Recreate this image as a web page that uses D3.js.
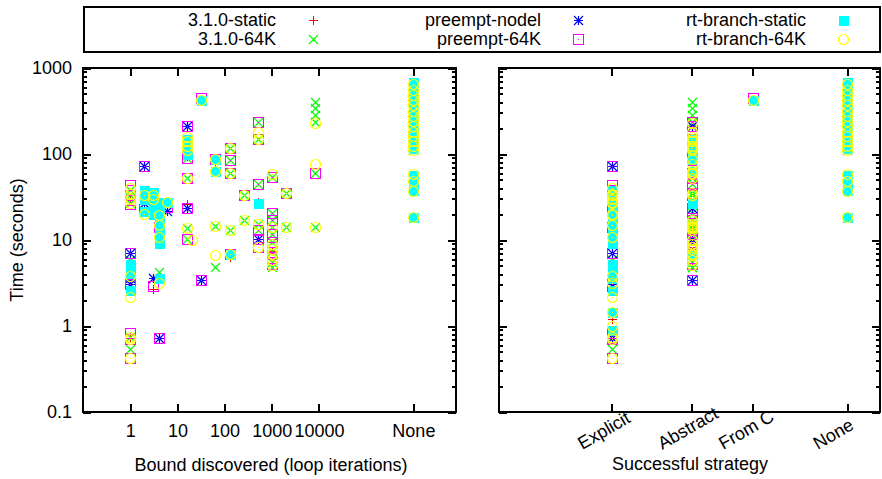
<!DOCTYPE html>
<html>
<head>
<meta charset="utf-8">
<script src="https://cdn.jsdelivr.net/npm/d3@7"></script>
<style>
  body { margin: 0; background: #fff; }
  text { font-family: "Liberation Sans", Arial, sans-serif; font-size: 18px; fill: #000; }
</style>
</head>
<body>
<svg id="chart" width="882" height="479"></svg>
<script>
"use strict";

// each point: [bound found (loop iterations), time in seconds, strategy]
// bound 0 has no place on the log axis, "None" = no bound discovered
// strategy codes: E explicit, A abstract, C from C, N none
let static310 = [
  [1, 30, "E"], [1, 7.0, "E"], [1, 3.4, "E"], [1, 0.72, "E"], [3, 2.7, "E"], [4, 12, "E"],
  [4, 24, "E"], [0, 1.2, "E"], [16, 26, "A"], [16, 95, "A"], [64, 70, "A"], [128, 6.3, "A"],
  [512, 28, "A"], [1024, 7.5, "A"], [32, 430, "C"]
];
let k64_310 = [
  [1, 38, "E"], [1, 33, "E"], [1, 27, "E"], [1, 5.9, "E"], [1, 0.74, "E"], [1, 0.54, "E"], [4, 4.2, "E"],
  [16, 90, "A"], [16, 52, "A"], [16, 13.8, "A"], [16, 10.2, "A"], [64, 14.5, "A"], [64, 4.8, "A"],
  [128, 118, "A"], [128, 85, "A"], [128, 60, "A"], [128, 13, "A"], [256, 33, "A"], [256, 17, "A"],
  [512, 237, "A"], [512, 150, "A"], [512, 45, "A"], [512, 15.5, "A"], [512, 13, "A"],
  [1024, 54, "A"], [1024, 20.5, "A"], [1024, 17, "A"], [1024, 14.3, "A"], [1024, 11.6, "A"],
  [1024, 9.5, "A"], [1024, 7.5, "A"], [1024, 5.6, "A"], [1024, 4.8, "A"], [2048, 35, "A"], [2048, 14, "A"],
  [8192, 405, "A"], [8192, 342, "A"], [8192, 285, "A"], [8192, 238, "A"], [8192, 60, "A"], [8192, 14, "A"],
  ["None", 112, "N"], ["None", 122, "N"]
];
let nodel = [
  [1, 7.1, "E"], [1, 3.6, "E"], [1, 3.1, "E"], [2, 72, "E"], [2, 27, "E"], [3, 3.6, "E"], [4, 0.72, "E"],
  [6, 22, "E"], [16, 212, "A"], [16, 23.5, "A"], [32, 3.4, "A"], [512, 10.3, "A"]
];
let preempt64 = [
  [1, 44, "E"], [1, 38, "E"], [1, 33, "E"], [1, 29, "E"], [1, 26, "E"], [1, 7.1, "E"], [1, 3.1, "E"],
  [1, 0.82, "E"], [1, 0.7, "E"], [1, 0.42, "E"], [2, 72, "E"], [2, 23, "E"], [3, 2.9, "E"], [4, 14, "E"],
  [4, 0.72, "E"], [6, 24, "E"],
  [16, 212, "A"], [16, 90, "A"], [16, 52, "A"], [16, 23.5, "A"], [16, 10.2, "A"], [32, 3.4, "A"],
  [64, 87, "A"], [128, 118, "A"], [128, 85, "A"], [128, 60, "A"], [128, 6.8, "A"], [256, 33, "A"],
  [512, 237, "A"], [512, 150, "A"], [512, 45, "A"], [512, 13, "A"], [512, 10.3, "A"], [512, 8.3, "A"],
  [1024, 54, "A"], [1024, 20.5, "A"], [1024, 17, "A"], [1024, 11.6, "A"], [1024, 9.5, "A"],
  [1024, 8.3, "A"], [1024, 7.2, "A"], [1024, 6.2, "A"], [1024, 5.3, "A"], [2048, 35, "A"], [8192, 60, "A"],
  [32, 445, "C"]
];
let rtStatic = [
  [1, 5.2, "E"], [1, 4.6, "E"], [1, 4.1, "E"], [1, 2.6, "E"], [2, 38, "E"], [2, 30, "E"], [2, 22, "E"],
  [3, 36, "E"], [3, 30, "E"], [3, 24, "E"], [3, 20, "E"], [4, 28, "E"], [4, 22, "E"], [4, 17, "E"],
  [4, 13, "E"], [4, 10, "E"], [4, 9.2, "E"], [4, 3.6, "E"], [6, 28, "E"], [0, 1.45, "E"], [0, 0.9, "E"],
  [16, 150, "A"], [16, 130, "A"], [16, 115, "A"], [16, 100, "A"], [64, 87, "A"], [64, 63, "A"],
  [128, 6.8, "A"], [512, 27, "A"], [32, 425, "C"],
  ["None", 690, "N"], ["None", 600, "N"], ["None", 520, "N"], ["None", 450, "N"], ["None", 400, "N"],
  ["None", 350, "N"], ["None", 300, "N"], ["None", 260, "N"], ["None", 225, "N"], ["None", 195, "N"],
  ["None", 170, "N"], ["None", 150, "N"], ["None", 132, "N"], ["None", 118, "N"], ["None", 57, "N"],
  ["None", 50, "N"], ["None", 38, "N"], ["None", 18.5, "N"]
];
let rt64 = [
  [1, 40, "E"], [1, 34, "E"], [1, 30, "E"], [1, 27, "E"], [1, 3.8, "E"], [1, 2.2, "E"], [1, 0.74, "E"],
  [1, 0.7, "E"], [1, 0.42, "E"], [2, 33, "E"], [2, 20, "E"], [3, 33, "E"], [3, 30, "E"], [4, 19.5, "E"],
  [4, 15, "E"], [4, 10.8, "E"], [4, 3.2, "E"], [6, 28, "E"], [0, 1.45, "E"], [0, 1.0, "E"],
  [16, 157, "A"], [16, 140, "A"], [16, 125, "A"], [16, 110, "A"], [16, 52, "A"], [16, 13.8, "A"],
  [20, 10, "A"], [64, 87, "A"], [64, 63, "A"], [64, 14.5, "A"], [64, 6.7, "A"], [128, 118, "A"],
  [128, 60, "A"], [128, 13, "A"], [128, 6.8, "A"], [256, 33, "A"], [256, 17, "A"], [512, 180, "A"],
  [512, 150, "A"], [512, 15.5, "A"], [512, 8.3, "A"], [1024, 59, "A"], [1024, 14.3, "A"], [1024, 9, "A"],
  [1024, 7.8, "A"], [1024, 6.8, "A"], [1024, 5.9, "A"], [1024, 5.1, "A"], [2048, 35, "A"], [2048, 14, "A"],
  [8192, 228, "A"], [8192, 76, "A"], [8192, 14, "A"], [32, 420, "C"],
  ["None", 660, "N"], ["None", 560, "N"], ["None", 480, "N"], ["None", 420, "N"], ["None", 370, "N"],
  ["None", 320, "N"], ["None", 280, "N"], ["None", 245, "N"], ["None", 210, "N"], ["None", 180, "N"],
  ["None", 160, "N"], ["None", 140, "N"], ["None", 125, "N"], ["None", 112, "N"], ["None", 58, "N"],
  ["None", 48, "N"], ["None", 37, "N"], ["None", 18.5, "N"]
];

let seriesNames = ["3.1.0-static", "3.1.0-64K", "preempt-nodel", "preempt-64K", "rt-branch-static", "rt-branch-64K"];
let seriesData = [static310, k64_310, nodel, preempt64, rtStatic, rt64];

let boundTicks = [1, 10, 100, 1000, 10000, "None"];
let timeTicks = [0.1, 1, 10, 100, 1000];
let strategyCodes = ["E", "A", "C", "N"];
let strategyLabels = ["Explicit", "Abstract", "From C", "None"];
let strategyX = [1.48, 2.53, 3.33, 4.57];

// styling
let colors = ["#ff0000", "#00ff00", "#0000ff", "#ff00ff", "#00ffff", "#ffff00"];
let shapes = ["plus", "cross", "star", "box", "boxfill", "circle"];
let noneAt = 1e6;

let svg = d3.select("#chart");
let y = d3.scaleLog().domain([0.1, 1000]).range([412, 68]);
let xBound = d3.scaleLog().domain([0.1, 8e6]).range([83, 456]);
let xStrat = d3.scaleLinear().domain([0, 5]).range([499, 880]);

function boundValue(b) { return b === "None" ? noneAt : b; }

function shapePath(kind) {
  let r = 4.5;
  let plus = `M${-r},0H${r}M0,${-r}V${r}`;
  let cross = `M${-r},${-r}L${r},${r}M${-r},${r}L${r},${-r}`;
  if (kind === "plus") return plus;
  if (kind === "cross") return cross;
  if (kind === "star") return plus + cross;
  if (kind === "box") return "M-5,-5H5V5H-5Z";
  if (kind === "boxfill") return "M-4.5,-4.5H4.5V4.5H-4.5Z";
  return "M5,0A5,5 0 1,1 -5,0A5,5 0 1,1 5,0Z";
}

function drawMark(g, i) {
  let kind = shapes[i];
  let square = kind === "box" || kind === "boxfill" || kind === "plus";
  g.append("path")
    .attr("d", shapePath(kind))
    .attr("fill", kind === "boxfill" ? colors[i] : "none")
    .attr("stroke", colors[i])
    .attr("stroke-width", square ? 1 : 1.2)
    .attr("shape-rendering", square ? "crispEdges" : "auto");
  if (kind === "box" || kind === "circle") {
    g.append("rect").attr("x", -0.5).attr("y", -0.5).attr("width", 1).attr("height", 1).attr("fill", colors[i]);
  }
}

function snap(v) { return Math.round(v) + 0.5; }

// frame, ticks on all four sides pointing inward
function drawFrame(x, x0, x1, xTickVals, xFormat, labelY) {
  let minor = y.ticks().filter(d => Math.abs(Math.log10(d) - Math.round(Math.log10(d))) > 1e-6);
  let g = svg.append("g");

  let yAxes = [
    [d3.axisLeft(y), x0, labelY],
    [d3.axisRight(y), x1, false]
  ];
  yAxes.forEach(([ax, pos, withLabels]) => {
    g.append("g").attr("transform", `translate(${pos},0)`)
      .call(ax.tickValues(timeTicks).tickSize(-8).tickSizeOuter(0).tickPadding(11)
        .tickFormat(withLabels ? d3.format("~g") : ""));
    g.append("g").attr("transform", `translate(${pos},0)`)
      .call(ax.tickValues(minor).tickSize(-4).tickSizeOuter(0).tickFormat(""));
  });

  g.append("g").attr("transform", "translate(0,68)")
    .call(d3.axisTop(x).tickValues(xTickVals).tickSize(-8).tickSizeOuter(0).tickFormat(""));
  let bottom = g.append("g").attr("transform", "translate(0,412)")
    .call(d3.axisBottom(x).tickValues(xTickVals).tickSize(-8).tickSizeOuter(0).tickPadding(12).tickFormat(xFormat));

  g.selectAll(".domain").remove();
  g.selectAll(".tick line").attr("stroke-width", 2).attr("shape-rendering", "crispEdges");
  g.selectAll("g").attr("font-size", null).attr("font-family", null);

  g.append("rect")
    .attr("x", x0).attr("y", 68).attr("width", x1 - x0).attr("height", 412 - 68)
    .attr("fill", "none").attr("stroke", "#000").attr("stroke-width", 2);
  return bottom;
}

function pageInit() {
  // left: time vs bound
  drawFrame(xBound, 83, 456, boundTicks.map(boundValue),
    d => d === noneAt ? "None" : d3.format("d")(d), true);

  // right: time vs strategy
  let stratBottom = drawFrame(xStrat, 499, 880, strategyX, (d, i) => strategyLabels[i], false);
  stratBottom.selectAll(".tick text")
    .attr("text-anchor", "start")
    .attr("x", -30).attr("y", 38).attr("dy", null)
    .attr("transform", "rotate(-30 -30 38)");

  seriesData.forEach((pts, i) => {
    let left = svg.append("g").selectAll("g")
      .data(pts.filter(p => p[0] === "None" || p[0] > 0))
      .enter().append("g")
      .attr("transform", p => `translate(${snap(xBound(boundValue(p[0])))},${snap(y(p[1]))})`);
    left.each(function () { drawMark(d3.select(this), i); });

    let right = svg.append("g").selectAll("g")
      .data(pts)
      .enter().append("g")
      .attr("transform", p => `translate(${snap(xStrat(strategyX[strategyCodes.indexOf(p[2])]))},${snap(y(p[1]))})`);
    right.each(function () { drawMark(d3.select(this), i); });
  });

  // axis titles
  svg.append("text").attr("transform", "translate(23,240) rotate(-90)")
    .attr("text-anchor", "middle").text("Time (seconds)");
  svg.append("text").attr("x", 271).attr("y", 471).attr("text-anchor", "middle")
    .text("Bound discovered (loop iterations)");
  svg.append("text").attr("x", 690).attr("y", 470).attr("text-anchor", "middle")
    .text("Successful strategy");

  // key
  svg.append("rect").attr("x", 84).attr("y", 7).attr("width", 796).attr("height", 45)
    .attr("fill", "#fff").attr("stroke", "#000").attr("stroke-width", 2);
  seriesNames.forEach((name, i) => {
    let col = Math.floor(i / 2), row = i % 2;
    svg.append("text").attr("x", 276 + 265 * col).attr("y", 26 + 19 * row)
      .attr("text-anchor", "end").text(name);
    let m = svg.append("g").attr("transform", `translate(${snap(313 + 265 * col)},${snap(20 + 19 * row)})`);
    drawMark(m, i);
  });
}

pageInit();
</script>
</body>
</html>
